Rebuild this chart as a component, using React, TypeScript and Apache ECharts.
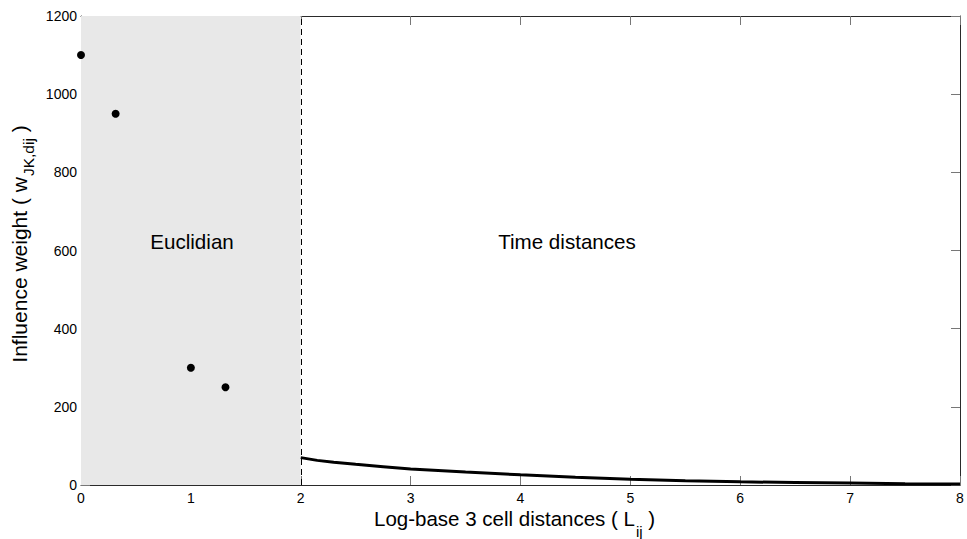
import React, { useEffect, useRef } from "react";
import * as echarts from "echarts";

const xTicks = [0, 1, 2, 3, 4, 5, 6, 7, 8];
const yTicks = [0, 200, 400, 600, 800, 1000, 1200];
const euclidX = [0, 0.315, 1, 1.315];
const euclidY = [1100, 950, 300, 250];
const timeX = [2, 2.15, 2.3, 2.5, 2.75, 3, 3.5, 4, 4.5, 5, 5.5, 6, 6.5, 7, 7.5, 8];
const timeY = [70, 63, 58, 53, 47, 41, 33, 26, 20, 15, 11, 8, 6.5, 5, 3.5, 2.5];
const regionSplit = 2;

const FONT = "'Liberation Sans', Arial, Helvetica, sans-serif";

function makeAxis(position: string, min: number, max: number, interval: number, showLabel: boolean, margin: number) {
  return {
    type: "value",
    position,
    min,
    max,
    interval,
    axisLine: { show: true, onZero: false, lineStyle: { color: "#2a2a2a", width: 1 } },
    axisTick: { show: true, inside: true, length: 9, lineStyle: { color: "#777", width: 1 } },
    splitLine: { show: false },
    axisLabel: {
      show: showLabel,
      inside: false,
      color: "#000",
      fontSize: 14,
      margin,
      fontFamily: FONT,
      formatter: (v: number) => String(v),
    },
  };
}

export default function App() {
  const ref = useRef<HTMLDivElement>(null);
  useEffect(() => {
    if (!ref.current) return;
    const chart = echarts.init(ref.current, null, { renderer: "svg" });
    const xMin = xTicks[0];
    const xMax = xTicks[xTicks.length - 1];
    const yMin = yTicks[0];
    const yMax = yTicks[yTicks.length - 1];
    const option = {
      animation: false,
      backgroundColor: "#ffffff",
      textStyle: { fontFamily: FONT },
      grid: { left: 81, right: 7, top: 16, bottom: 54, containLabel: false },
      xAxis: [
        makeAxis("bottom", xMin, xMax, 1, true, 6),
        makeAxis("top", xMin, xMax, 1, false, 6),
      ],
      yAxis: [
        makeAxis("left", yMin, yMax, 200, true, 4),
        makeAxis("right", yMin, yMax, 200, false, 4),
      ],
      series: [
        {
          type: "line",
          xAxisIndex: 0,
          yAxisIndex: 0,
          data: timeX.map((x, i) => [x, timeY[i]]),
          showSymbol: false,
          symbol: "none",
          lineStyle: { color: "#000", width: 3 },
          z: 3,
          markArea: {
            silent: true,
            itemStyle: { color: "#e8e8e8", opacity: 1 },
            data: [[{ xAxis: xMin, yAxis: yMin }, { xAxis: regionSplit, yAxis: yMax }]],
          },
          markLine: {
            silent: true,
            symbol: "none",
            label: { show: false },
            lineStyle: { color: "#000", type: [6, 4], width: 1, opacity: 1 },
            data: [{ xAxis: regionSplit }],
          },
        },
        {
          type: "scatter",
          xAxisIndex: 0,
          yAxisIndex: 0,
          data: euclidX.map((x, i) => [x, euclidY[i]]),
          symbol: "circle",
          symbolSize: 8,
          itemStyle: { color: "#000", opacity: 1 },
          z: 4,
        },
      ],
      graphic: [
        {
          type: "text",
          x: 192,
          y: 241,
          style: { text: "Euclidian", font: `20.6px ${FONT}`, fill: "#000", align: "center", verticalAlign: "middle" },
          z: 10,
        },
        {
          type: "text",
          x: 567,
          y: 241,
          style: { text: "Time distances", font: `20.6px ${FONT}`, fill: "#000", align: "center", verticalAlign: "middle" },
          z: 10,
        },
        {
          type: "text",
          x: 374,
          y: 518.5,
          style: {
            text: "{a|Log-base 3 cell distances ( L}{b|ij}{a| )}",
            align: "left",
            verticalAlign: "middle",
            fill: "#000",
            rich: {
              a: { fontSize: 20.5, fontFamily: FONT, fill: "#000" },
              b: { fontSize: 15, fontFamily: FONT, fill: "#000", padding: [26, 0, 0, 1] },
            },
          },
          z: 10,
        },
        {
          type: "text",
          x: 19.5,
          y: 244,
          rotation: Math.PI / 2,
          style: {
            text: "{a|Influence weight ( w}{b|JK,dij}{a| )}",
            align: "center",
            verticalAlign: "middle",
            fill: "#000",
            rich: {
              a: { fontSize: 21, fontFamily: FONT, fill: "#000" },
              b: { fontSize: 15.5, fontFamily: FONT, fill: "#000", padding: [18, 0, 0, 1] },
            },
          },
          z: 10,
        },
      ],
    };
    chart.setOption(option as any);
    return () => chart.dispose();
  }, []);
  return (
    <div
      ref={ref}
      style={{ position: "fixed", left: 0, top: 0, width: 967, height: 539, background: "#fff" }}
    />
  );
}
